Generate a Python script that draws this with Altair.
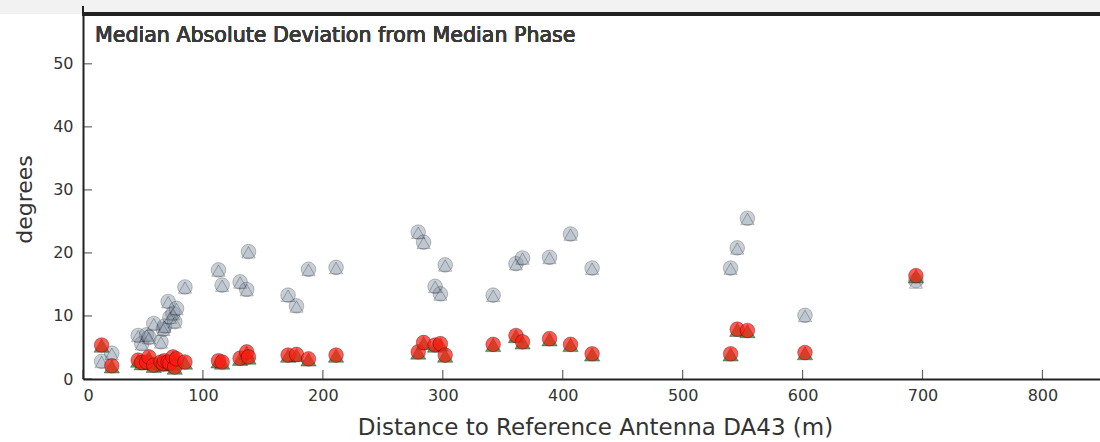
import altair as alt
import pandas as pd

# Distance to reference antenna (m)
distance = [15.5, 24, 46, 49, 53, 55, 59, 65, 67, 68, 71, 72.5, 75, 76.5, 78, 85,
            113, 116, 131, 136.5, 138, 171, 178, 188, 211,
            279.5, 284, 293.6, 298, 302, 342, 361, 366.5, 389, 406.5, 424.5,
            540, 545.5, 554, 602, 694.5]
# MAD, uncorrected (grey): circles and triangles
grey_circle = [2.8, 4.1, 6.9, 5.6, 7.0, 6.6, 8.8, 5.9, 7.9, 8.4, 12.3, 9.8, 10.4, 9.1, 11.2, 14.6,
               17.3, 14.9, 15.4, 14.2, 20.2, 13.3, 11.6, 17.4, 17.7,
               23.3, 21.7, 14.7, 13.5, 18.1, 13.3, 18.3, 19.2, 19.3, 23.0, 17.6,
               17.6, 20.8, 25.5, 10.1, 15.6]
grey_triangle = [2.7, 4.0, 6.8, 5.5, 6.9, 6.5, 8.7, 5.8, 7.8, 8.3, 12.2, 9.7, 10.3, 9.0, 11.1, 14.5,
                 17.2, 14.8, 15.3, 14.1, 20.1, 13.2, 11.5, 17.3, 17.6,
                 23.2, 21.6, 14.6, 13.4, 18.0, 13.2, 18.2, 19.1, 19.2, 22.9, 17.5,
                 17.5, 20.7, 25.4, 10.0, 15.3]
# MAD, corrected (red circles / green triangles)
red_circle = [5.4, 2.1, 3.0, 2.6, 2.7, 3.5, 2.2, 2.7, 2.4, 2.9, 2.7, 2.5, 3.5, 1.9, 3.2, 2.7,
              2.9, 2.7, 3.3, 4.3, 3.5, 3.8, 3.9, 3.2, 3.8,
              4.3, 5.8, 5.4, 5.6, 3.8, 5.5, 6.9, 5.9, 6.4, 5.5, 4.0,
              4.0, 7.9, 7.7, 4.2, 16.4]
green_triangle = [5.3, 2.0, 2.9, 2.5, 2.6, 3.4, 2.1, 2.6, 2.3, 2.8, 2.6, 2.4, 3.4, 1.8, 3.1, 2.6,
                  2.8, 2.6, 3.2, 4.2, 3.4, 3.7, 3.8, 3.1, 3.7,
                  4.2, 5.7, 5.3, 5.5, 3.7, 5.4, 6.8, 5.8, 6.3, 5.4, 3.9,
                  3.9, 7.8, 7.6, 4.1, 16.3]

x_ticks = [0, 100, 200, 300, 400, 500, 600, 700, 800]
y_ticks = [0, 10, 20, 30, 40, 50]

df = pd.DataFrame({"d": distance, "gc": grey_circle, "gt": grey_triangle,
                   "rc": red_circle, "gtr": green_triangle})
xt = pd.DataFrame({"v": x_ticks})
yt = pd.DataFrame({"v": y_ticks})

W, H = 1017, 365
FONT = "DejaVu Sans"
TXT = "#333333"
xs = alt.Scale(domain=[0, 848], nice=False, zero=False)
ys = alt.Scale(domain=[0, 57.9], nice=False, zero=False)

base = alt.Chart(df)

xax = alt.Axis(values=x_ticks, format="d", grid=False, ticks=False, domain=True,
               domainColor="#222", domainWidth=2, labelFont=FONT, labelFontSize=16,
               labelColor=TXT, labelPadding=8, title="Distance to Reference Antenna DA43 (m)",
               titleFont=FONT, titleFontSize=23, titleFontWeight="normal", titleColor=TXT,
               titleBaseline="alphabetic", titleY=55, titleX=512)
yax = alt.Axis(values=y_ticks, format="d", grid=False, ticks=False, domain=True,
               domainColor="#222", domainWidth=2, labelFont=FONT, labelFontSize=16,
               labelColor=TXT, labelPadding=10, title="degrees",
               titleFont=FONT, titleFontSize=22, titleFontWeight="normal", titleColor=TXT,
               titleBaseline="alphabetic", titleX=-52, titleY=185)

gc = base.mark_point(shape="circle", filled=True, size=215, fill="#8494a6", fillOpacity=0.45,
                     stroke="#000", strokeOpacity=0.22, strokeWidth=1).encode(
    x=alt.X("d:Q", scale=xs, axis=xax), y=alt.Y("gc:Q", scale=ys, axis=yax))
gt = base.mark_point(shape="triangle-up", filled=True, size=175, fill="#8494a6", fillOpacity=0.15,
                     stroke="#000", strokeOpacity=0.25, strokeWidth=1).encode(
    x=alt.X("d:Q", scale=xs), y=alt.Y("gt:Q", scale=ys))
grt = base.mark_point(shape="triangle-up", filled=True, size=235, fill="#3a8a3a", fillOpacity=0.8,
                      stroke="#000", strokeOpacity=0.3, strokeWidth=1).encode(
    x=alt.X("d:Q", scale=xs), y=alt.Y("gtr:Q", scale=ys))
rc = base.mark_point(shape="circle", filled=True, size=215, fill="#ff1a10", fillOpacity=0.72,
                     stroke="#000", strokeOpacity=0.3, strokeWidth=1).encode(
    x=alt.X("d:Q", scale=xs), y=alt.Y("rc:Q", scale=ys))

xtick = alt.Chart(xt).mark_tick(orient="vertical", color="#222", thickness=1.2, size=9).encode(
    x=alt.X("v:Q", scale=xs), y=alt.value(H - 4.5))
ytick = alt.Chart(yt).mark_tick(orient="horizontal", color="#222", thickness=1.2, size=9).encode(
    y=alt.Y("v:Q", scale=ys), x=alt.value(4.5))

band = alt.Chart(xt).mark_rect(color="#f2f2f2").encode(
    x=alt.value(-83), x2=alt.value(W), y=alt.value(-14), y2=alt.value(0))
topline = alt.Chart(xt).mark_rule(color="#222", strokeWidth=3).encode(
    x=alt.value(-1), x2=alt.value(W), y=alt.value(0))
leftup = alt.Chart(xt).mark_rule(color="#222", strokeWidth=2).encode(
    x=alt.value(0), y=alt.value(-8), y2=alt.value(0))

title = alt.Chart(xt).mark_text(text="Median Absolute Deviation from Median Phase", align="left",
                                baseline="alphabetic", font=FONT, fontSize=20.6, color="#3a3a3a").encode(
    x=alt.value(12), y=alt.value(28))

chart = alt.layer(band, gc, gt, grt, rc, xtick, ytick, topline, leftup, title).properties(
    width=W, height=H,
    autosize=alt.AutoSizeParams(type="none"),
    padding={"left": 83, "top": 14, "right": 0, "bottom": 63},
).configure_view(stroke=None).configure(background="white")

chart.save("out.html", embed_options={"renderer": "svg", "actions": False})
